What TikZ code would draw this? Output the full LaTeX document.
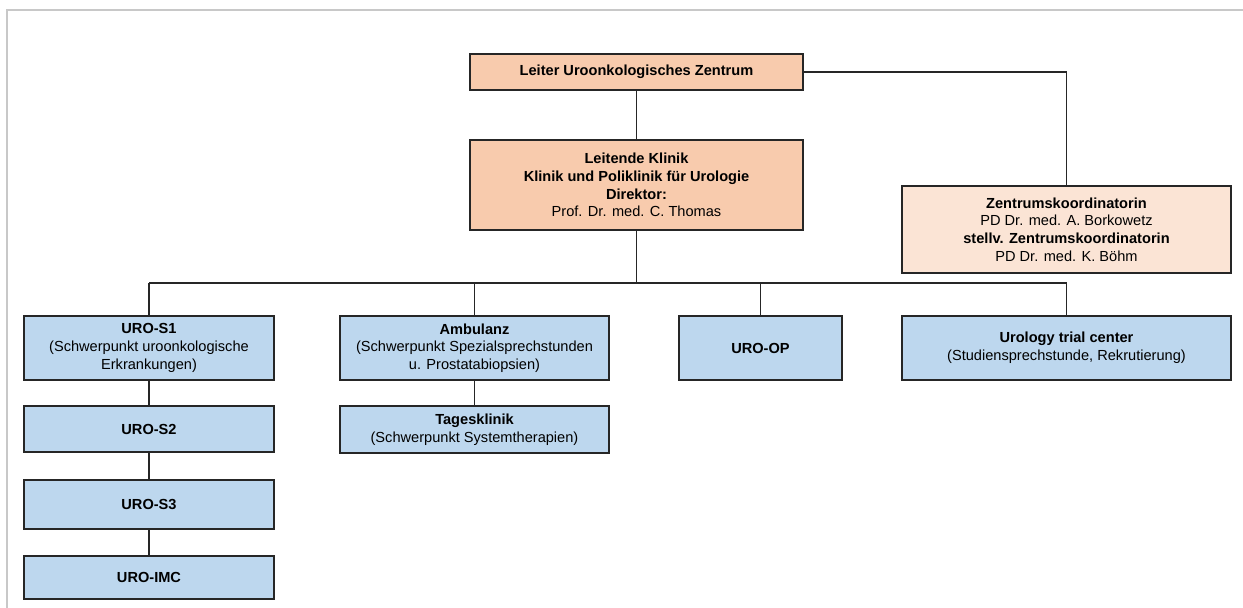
\documentclass[tikz,border=0pt]{standalone}
\usepackage{fontspec}
\setmainfont{Liberation Sans}
\usetikzlibrary{positioning, calc}
\definecolor{kopf}{HTML}{F8CBAD}
\definecolor{koord}{HTML}{FBE4D5}
\definecolor{abt}{HTML}{BDD7EE}
\definecolor{rahmen}{HTML}{C8C8C8}
\definecolor{kante}{HTML}{262626}
\tikzset{
  x=1pt, y=-1pt,
  font=\fontsize{14.6}{17.6}\selectfont,
  org/.style={
    draw=kante, fill=#1, line width=1.2pt,
    align=center, inner sep=2pt
  },
  org/.default=abt,
  link/.style={draw=kante, line width=1.1pt}
}

\begin{document}
\begin{tikzpicture}
  \useasboundingbox (0,0) rectangle (1243,608);
  \draw[rahmen, line width=2pt] (7,608) -- (7,10) -- (1243,10);

  \node[org=kopf, minimum width=333pt, minimum height=36pt] (leiter) at (636.5,72)
    {\textbf{Leiter Uroonkologisches Zentrum}};
  \node[org=kopf, minimum width=333pt, minimum height=90pt] (klinik) at (636.5,185)
    {\textbf{Leitende Klinik}\\\textbf{Klinik und Poliklinik für Urologie}\\\textbf{Direktor:}\\Prof. Dr. med. C. Thomas};
  \node[org=koord, minimum width=329pt, minimum height=87pt] (zk) at (1066.5,229.5)
    {\textbf{Zentrumskoordinatorin}\\PD Dr. med. A. Borkowetz\\\textbf{stellv. Zentrumskoordinatorin}\\PD Dr. med. K. Böhm};

  \node[org, minimum width=250pt, minimum height=64pt] (s1) at (149,348)
    {\textbf{URO-S1}\\(Schwerpunkt uroonkologische\\Erkrankungen)};
  \node[org, minimum width=250pt, minimum height=46pt] (s2) at (149,429) {\textbf{URO-S2}};
  \node[org, minimum width=250pt, minimum height=49pt] (s3) at (149,504.5) {\textbf{URO-S3}};
  \node[org, minimum width=250pt, minimum height=43pt] (imc) at (149,577.5) {\textbf{URO-IMC}};

  \node[org, minimum width=269pt, minimum height=64pt] (amb) at (474.5,348)
    {\textbf{Ambulanz}\\(Schwerpunkt Spezialsprechstunden\\u. Prostatabiopsien)};
  \node[org, minimum width=269pt, minimum height=47pt] (tk) at (474.5,429.5)
    {\textbf{Tagesklinik}\\(Schwerpunkt Systemtherapien)};
  \node[org, minimum width=163pt, minimum height=64pt] (op) at (760.5,348) {\textbf{URO-OP}};
  \node[org, minimum width=329pt, minimum height=64pt] (utc) at (1066.5,348)
    {\textbf{Urology trial center}\\(Studiensprechstunde, Rekrutierung)};

  % Verbindungen
  \coordinate (bus) at (0,283);
  \draw[link] (leiter) -- (klinik);
  \draw[link] (leiter.east) -| (zk.north);
  \draw[link] (klinik.south) -- (klinik.south |- bus);
  \draw[link] (s1.north |- bus) -- (utc.north |- bus);
  \foreach \n in {s1, amb, op, utc}
    \draw[link] (\n.north) -- (\n.north |- bus);
  \draw[link] (s1) -- (s2);
  \draw[link] (s2) -- (s3);
  \draw[link] (s3) -- (imc);
  \draw[link] (amb) -- (tk);
\end{tikzpicture}
\end{document}
